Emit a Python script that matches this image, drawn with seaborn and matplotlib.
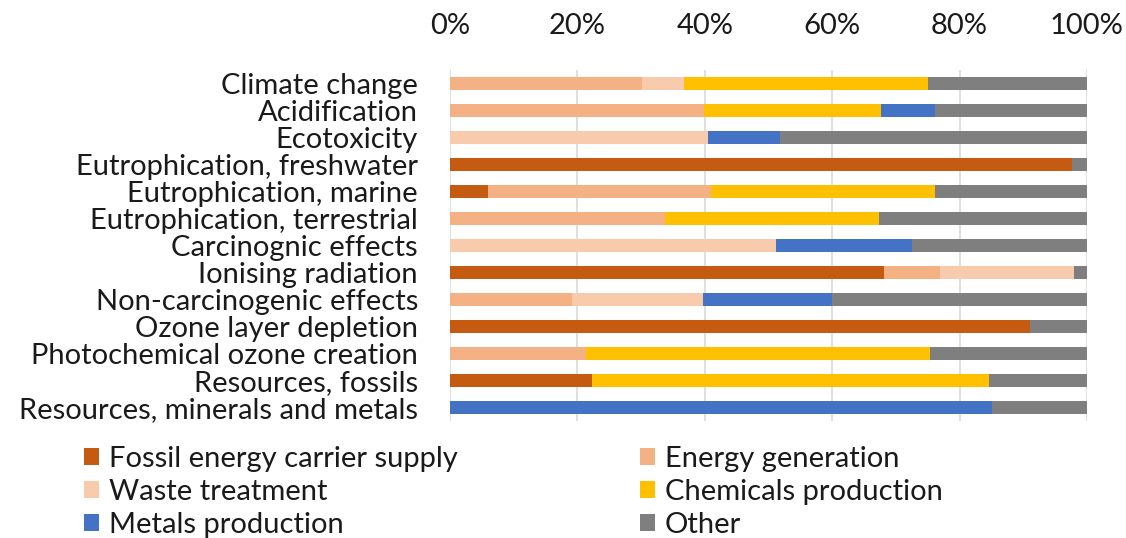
import matplotlib
matplotlib.use("Agg")
import matplotlib.pyplot as plt
import seaborn as sns
import pandas as pd
import numpy as np
from matplotlib.patches import Patch

categories = [
    "Climate change", "Acidification", "Ecotoxicity", "Eutrophication, freshwater",
    "Eutrophication, marine", "Eutrophication, terrestrial", "Carcinognic effects",
    "Ionising radiation", "Non-carcinogenic effects", "Ozone layer depletion",
    "Photochemical ozone creation", "Resources, fossils", "Resources, minerals and metals",
]
series_names = ["Fossil energy carrier supply", "Energy generation", "Waste treatment",
                "Chemicals production", "Metals production", "Other"]

fossil = [0, 0, 0, 97.6, 6.0, 0, 0, 68.2, 0, 91.0, 0, 22.3, 0]
energy = [30.2, 39.9, 0, 0, 35.0, 33.8, 0, 8.8, 19.2, 0, 21.3, 0, 0]
waste = [6.5, 0, 40.5, 0, 0, 0, 51.2, 21.0, 20.5, 0, 0, 0, 0]
chemicals = [38.4, 27.7, 0, 0, 35.2, 33.5, 0, 0, 0, 0, 54.0, 62.3, 0]
metals = [0, 8.5, 11.3, 0, 0, 0, 21.3, 0, 20.2, 0, 0, 0, 85.1]
other = [24.9, 23.9, 48.2, 2.4, 23.8, 32.7, 27.5, 2.0, 40.1, 9.0, 24.7, 15.4, 14.9]

colors = ["#C55A11", "#F4B183", "#F8CBAD", "#FFC000", "#4472C4", "#7F7F7F"]

sns.set_theme(style="white")
plt.rcParams["font.family"] = ["Lato", "DejaVu Sans"]
TXT = "#1a1a1a"
FS = 21

df = pd.DataFrame(dict(zip(series_names, [fossil, energy, waste, chemicals, metals, other])),
                  index=categories)
cum = df.cumsum(axis=1)

fig = plt.figure(figsize=(11.26, 5.38), dpi=100)
ax = fig.add_axes([450 / 1126, 1 - 421 / 538, 637 / 1126, 351 / 538])

# stacked bars: draw cumulative totals from the outermost segment inward
for name, col in reversed(list(zip(series_names, colors))):
    sns.barplot(x=cum[name].values, y=categories, orient="h", color=col,
                width=0.48, ax=ax, saturation=1, linewidth=0, zorder=3)

ax.set_xlim(0, 100)
ax.set_ylim(12.5, -0.5)
ax.set_xticks(np.arange(0, 101, 20))
ax.set_xticklabels([f"{v}%" for v in range(0, 101, 20)])
ax.xaxis.tick_top()
ax.tick_params(axis="x", length=0, labelsize=FS, pad=22, colors=TXT)
ax.tick_params(axis="y", length=0, labelsize=FS, pad=23, colors=TXT)
ax.grid(axis="x", color="#D9D9D9", linewidth=1.2, zorder=0)
ax.set_axisbelow(True)
for s in ax.spines.values():
    s.set_visible(False)
ax.set_xlabel("")
ax.set_ylabel("")

# legend laid out as two columns filled row by row
handles = [Patch(facecolor=c, edgecolor="none") for c in colors]
left_idx, right_idx = [0, 2, 4], [1, 3, 5]
for idx, x0 in ((left_idx, 84), (right_idx, 640)):
    leg = fig.legend([handles[i] for i in idx], [series_names[i] for i in idx],
                     loc="upper left", bbox_to_anchor=(x0 / 1126, 1 - 446 / 538),
                     frameon=False, fontsize=FS, handlelength=0.5, handleheight=0.5,
                     handletextpad=0.35, labelspacing=0.24, borderpad=0,
                     borderaxespad=0, labelcolor=TXT)

fig.savefig("out.png", dpi=100)
